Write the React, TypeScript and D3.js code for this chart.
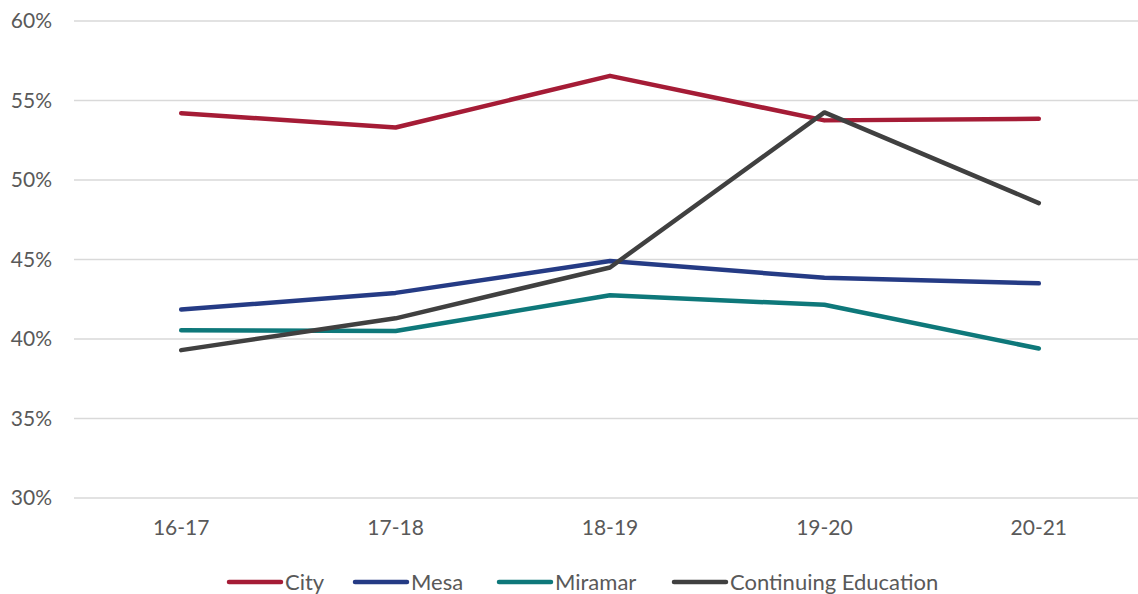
import { useEffect, useRef } from "react"
import * as d3 from "d3"

const years = ["16-17", "17-18", "18-19", "19-20", "20-21"]
const city = [54.2, 53.3, 56.55, 53.75, 53.85]
const mesa = [41.85, 42.9, 44.9, 43.85, 43.5]
const miramar = [40.55, 40.5, 42.75, 42.15, 39.4]
const continuing = [39.3, 41.3, 44.5, 54.25, 48.55]
const seriesNames = ["City", "Mesa", "Miramar", "Continuing Education"]
const colors = ["#A51C36", "#253B85", "#0E787A", "#404040"]
const yTicks = [30, 35, 40, 45, 50, 55, 60]

const width = 1138
const height = 594
const font = "Lato, 'Open Sans', sans-serif"

const App = () => {
    const ref = useRef<SVGSVGElement>(null)

    useEffect(() => {
        const svg = d3.select(ref.current)
        svg.selectAll("*").remove()

        const x = d3.scaleBand().domain(years).range([74, 1146])
        const y = d3.scaleLinear().domain([30, 60]).range([498, 21])

        // gridlines + y labels
        svg.append("g")
            .selectAll("line")
            .data(yTicks)
            .join("line")
            .attr("x1", 74)
            .attr("x2", 1138)
            .attr("y1", d => y(d))
            .attr("y2", d => y(d))
            .attr("stroke", "#d9d9d9")
            .attr("stroke-width", 1.5)

        svg.append("g")
            .selectAll("text")
            .data(yTicks)
            .join("text")
            .attr("x", 52)
            .attr("y", d => y(d))
            .attr("dy", "0.35em")
            .attr("text-anchor", "end")
            .attr("fill", "#595959")
            .attr("font-family", font)
            .attr("font-size", 21)
            .text(d => `${d}%`)

        svg.append("g")
            .selectAll("text")
            .data(years)
            .join("text")
            .attr("x", d => x(d)! + x.bandwidth() / 2)
            .attr("y", 535)
            .attr("text-anchor", "middle")
            .attr("fill", "#595959")
            .attr("font-family", font)
            .attr("font-size", 21)
            .text(d => d)

        const line = d3.line<number>()
            .x((d, i) => x(years[i])! + x.bandwidth() / 2)
            .y(d => y(d))

        const all = [city, mesa, miramar, continuing]
        svg.append("g")
            .selectAll("path")
            .data(all)
            .join("path")
            .attr("d", d => line(d))
            .attr("fill", "none")
            .attr("stroke", (d, i) => colors[i])
            .attr("stroke-width", 4.5)
            .attr("stroke-linejoin", "round")
            .attr("stroke-linecap", "round")

        // legend
        const legendX = [227, 353, 497, 672]
        const lg = svg.append("g")
            .selectAll("g")
            .data(seriesNames)
            .join("g")
            .attr("transform", (d, i) => `translate(${legendX[i]}, 582)`)
        lg.append("line")
            .attr("x1", 2)
            .attr("x2", 54)
            .attr("stroke", (d, i) => colors[i])
            .attr("stroke-width", 4.5)
            .attr("stroke-linecap", "round")
        lg.append("text")
            .attr("x", 58)
            .attr("dy", "0.35em")
            .attr("fill", "#595959")
            .attr("font-family", font)
            .attr("font-size", 22)
            .text(d => d)
    })

    return (
        <svg ref={ref} width={width} height={height}
             style={{ position: "absolute", left: 0, top: 0, background: "#fff" }} />
    )
}

export default App
